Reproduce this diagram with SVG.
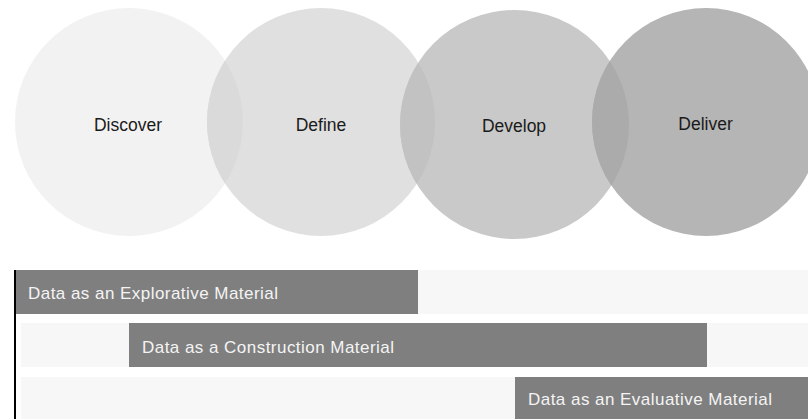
<svg xmlns="http://www.w3.org/2000/svg" width="808" height="419" viewBox="0 0 808 419">
  <style>
    .lbl { font-family: "Liberation Sans", Arial, sans-serif; font-size: 17.5px; fill: #1a1a1a; text-anchor: middle; }
    .bar-lbl { font-family: "Liberation Sans", Arial, sans-serif; font-size: 17px; fill: #f4f4f4; }
    .track { fill: #f7f7f7; }
    .bar { fill: #7f7f7f; }
  </style>
  <defs>
    <clipPath id="clip1"><circle cx="129" cy="122" r="114"/></clipPath>
    <clipPath id="clip2"><circle cx="321" cy="122" r="114"/></clipPath>
    <clipPath id="clip3"><circle cx="514.5" cy="124.5" r="114.5"/></clipPath>
  </defs>
  <rect width="808" height="419" fill="#ffffff"/>

  <g id="discover">
    <circle cx="129" cy="122" r="114" fill="#f2f2f2"/>
  </g>
  <g id="define">
    <circle cx="321" cy="122" r="114" fill="#e0e0e0"/>
    <circle cx="321" cy="122" r="114" fill="#dadada" clip-path="url(#clip1)"/>
  </g>
  <g id="develop">
    <circle cx="514.5" cy="124.5" r="114.5" fill="#c9c9c9"/>
    <circle cx="514.5" cy="124.5" r="114.5" fill="#c2c2c2" clip-path="url(#clip2)"/>
  </g>
  <g id="deliver">
    <circle cx="706" cy="122" r="114" fill="#b5b5b5"/>
    <circle cx="706" cy="122" r="114" fill="#ababab" clip-path="url(#clip3)"/>
  </g>
  <g id="circle-labels">
    <text class="lbl" x="128" y="130.5">Discover</text>
    <text class="lbl" x="321" y="130.5">Define</text>
    <text class="lbl" x="514" y="132">Develop</text>
    <text class="lbl" x="705.5" y="130">Deliver</text>
  </g>

  <g id="row-explorative">
    <rect class="track" x="16" y="270" width="792" height="44"/>
    <rect class="bar" x="16" y="270" width="402" height="44"/>
    <text class="bar-lbl" x="28" y="298.5" textLength="250" lengthAdjust="spacing">Data as an Explorative Material</text>
  </g>
  <g id="row-construction">
    <rect class="track" x="21" y="323" width="787" height="44"/>
    <rect class="bar" x="129" y="323" width="578" height="44"/>
    <text class="bar-lbl" x="142" y="352.5" textLength="252" lengthAdjust="spacing">Data as a Construction Material</text>
  </g>
  <g id="row-evaluative">
    <rect class="track" x="21" y="377" width="787" height="42"/>
    <rect class="bar" x="515" y="377" width="293" height="42"/>
    <text class="bar-lbl" x="528" y="405" textLength="244" lengthAdjust="spacing">Data as an Evaluative Material</text>
  </g>

  <g id="connectors">
    <line x1="15" y1="270" x2="15" y2="419" stroke="#000000" stroke-width="2"/>
  </g>
</svg>
